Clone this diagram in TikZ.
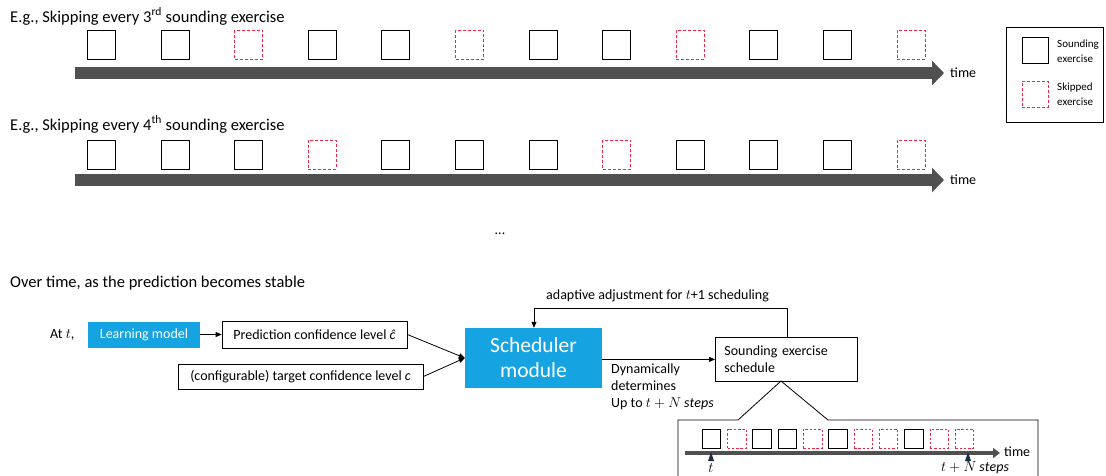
\documentclass[tikz,border=0pt]{standalone}
\usepackage{fontspec}
\setmainfont{Carlito}
\usetikzlibrary{arrows.meta}
\definecolor{barg}{RGB}{80,80,80}
\definecolor{skipred}{RGB}{238,40,68}
\definecolor{schblue}{RGB}{22,163,226}
\definecolor{ticknavy}{RGB}{30,45,75}
\begin{document}
\begin{tikzpicture}[x=1pt,y=-1pt,
  hfont/.style={font={\fontsize{16.5}{19}\selectfont}},
  bfont/.style={font={\fontsize{14}{17}\selectfont}},
  sndbox/.style={draw=black,line width=0.9pt,minimum width=28,minimum height=29,inner sep=0},
  skipbox/.style={draw=skipred,line width=0.9pt,dash pattern=on 3pt off 2pt,minimum width=28,minimum height=29,inner sep=0},
  ssnd/.style={sndbox,minimum width=18.5,minimum height=19},
  sskip/.style={skipbox,minimum width=18.5,minimum height=19,dash pattern=on 2.5pt off 1.8pt},
  bigarrow/.style={draw=barg,line width=12pt,-{Triangle[length=12pt,width=24pt]}},
  smallarrow/.style={draw=barg,line width=3.5pt,-{Triangle[length=7pt,width=10pt]}},
  plainbox/.style={draw=black,line width=0.8pt,inner sep=0,bfont},
  bluebox/.style={fill=schblue,text=white,inner sep=0},
  arr/.style={draw=black,line width=0.8pt,-{Triangle[length=6pt,width=5pt]}},
  lbl/.style={inner sep=0,bfont}
]
\useasboundingbox (0,0) rectangle (1106,475);
\fill[white] (0,0) rectangle (1106,475);

% ---- row 1 ----
\node[hfont,anchor=base west,inner sep=0] (h1) at (10,22) {E.g., Skipping every 3\textsuperscript{rd} sounding exercise};
\foreach \t [count=\i] in {sndbox,sndbox,skipbox,sndbox,sndbox,skipbox,sndbox,sndbox,skipbox,sndbox,sndbox,skipbox}
  \node[\t] (ra\i) at ({101.5+(\i-1)*73.6},44.5) {};
\coordinate (a1s) at (75,73);
\coordinate (a1e) at (944,73);
\draw[bigarrow] (a1s) -- (a1e);
\node[lbl,anchor=west] (time1) at (950,73) {time};

% ---- row 2 ----
\node[hfont,anchor=base west,inner sep=0] (h2) at (10,130) {E.g., Skipping every 4\textsuperscript{th} sounding exercise};
\foreach \t [count=\i] in {sndbox,sndbox,sndbox,skipbox,sndbox,sndbox,sndbox,skipbox,sndbox,sndbox,sndbox,skipbox}
  \node[\t] (rb\i) at ({101.5+(\i-1)*73.6},154.5) {};
\coordinate (a2s) at (75,180);
\coordinate (a2e) at (944,180);
\draw[bigarrow] (a2s) -- (a2e);
\node[lbl,anchor=west] (time2) at (950,180) {time};

% ---- legend ----
\node[draw=black,line width=0.7pt,minimum width=97,minimum height=95,anchor=north west,inner sep=0] (legend) at (1006,27) {};
\node[sndbox,minimum width=26,minimum height=26,anchor=north west] (lg1) at (1022,37) {};
\node[skipbox,minimum width=26,minimum height=26,anchor=north west] (lg2) at (1022,81) {};
\node[anchor=north west,inner sep=0,align=left,font={\fontsize{11}{15}\selectfont}] (lt1) at (1057,39.5) {Sounding\\exercise};
\node[anchor=north west,inner sep=0,align=left,font={\fontsize{11}{15}\selectfont}] (lt2) at (1057,82.5) {Skipped\\exercise};

% ---- dots ----
\node[bfont,inner sep=0] (dots) at (500,234) {...};

% ---- bottom part ----
\node[hfont,anchor=base west,inner sep=0] (h3) at (10,287) {Over time, as the prediction becomes stable};
\node[lbl,anchor=base west] (att) at (50,338) {At $t$,};
\node[bluebox,bfont,minimum width=112,minimum height=26] (learn) at (144,334.5) {Learning model};
\node[plainbox,minimum width=185,minimum height=27] (pred) at (314.5,334.5) {Prediction confidence level \textit{ĉ}};
\node[plainbox,minimum width=245,minimum height=25] (conf) at (300.5,376.5) {(configurable) target confidence level \textit{c}};
\node[bluebox,minimum width=137,minimum height=60,align=center,font={\fontsize{21.5}{25}\selectfont}] (sch) at (533.5,358) {Scheduler\\module};
\node[plainbox,minimum width=142,minimum height=44,anchor=north west,align=left,text width=124,inner xsep=9] (sched) at (715,337) {Sounding exercise\\schedule};

\draw[arr] (learn) -- (pred);
\draw[arr] (pred.east) -- (sch.west);
\draw[arr] (conf.east) -- (sch.west);
\draw[arr] (sch.east |- sched.west) -- (sched.west);

\node[lbl,anchor=north west,align=left] (dyn) at (611,363.5) {Dynamically\\determines\\Up to $t+N\ \mathit{steps}$};

\coordinate (fbR) at (787,308);
\coordinate (fbL) at (534,308);
\draw[arr] (sched.north -| fbR) -- (fbR) -- (fbL) -- (sch.north -| fbL);
\node[lbl,anchor=base west] (fbl) at (546,299) {adaptive adjustment for $t$+1 scheduling};

% ---- callout ----
\coordinate (apex) at (781,381);
\draw[black,line width=0.8pt] (678,480) -- (678,420) -- (738,420) -- (apex) -- (828,420) -- (1038,420) -- (1038,480);
\foreach \t [count=\i] in {ssnd,sskip,ssnd,ssnd,sskip,ssnd,sskip,sskip,ssnd,sskip,sskip}
  \node[\t] (sc\i) at ({711.5+(\i-1)*25.3},438.5) {};
\coordinate (s3s) at (685,453);
\coordinate (s3e) at (1000,453);
\draw[smallarrow] (s3s) -- (s3e);
\node[lbl,anchor=west] (time3) at (1004,452) {time};
\fill[ticknavy] (711,452) -- (714,461) -- (708,461) -- cycle;
\fill[ticknavy] (968,452) -- (971,461) -- (965,461) -- cycle;
\node[lbl,anchor=base] (tl) at (711,472) {$t$};
\node[lbl,anchor=base] (tnl) at (975,471) {$t+N\ \mathit{steps}$};
\end{tikzpicture}
\end{document}
